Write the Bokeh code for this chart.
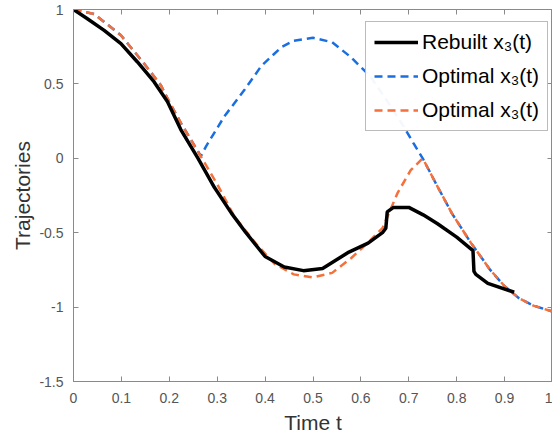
from bokeh.plotting import figure
from bokeh.models import LinearAxis, FixedTicker, Legend, LegendItem, Range1d
from bokeh.embed import file_html
from bokeh.resources import INLINE

# ---- data ----
t_rebuilt = [0, 0.029, 0.064, 0.099, 0.133, 0.168, 0.196, 0.224, 0.26, 0.294, 0.33, 0.36, 0.40, 0.44, 0.48,
             0.52, 0.55, 0.575, 0.615, 0.645, 0.652, 0.655, 0.668, 0.70, 0.73, 0.76, 0.80,
             0.834, 0.836, 0.84, 0.865, 0.92]
y_rebuilt = [1.0, 0.938, 0.86, 0.771, 0.649, 0.515, 0.382, 0.193, 0.0, -0.195, -0.37, -0.50, -0.66, -0.73, -0.755,
             -0.74, -0.68, -0.63, -0.57, -0.50, -0.47, -0.36, -0.33, -0.33, -0.38, -0.44, -0.53,
             -0.62, -0.76, -0.78, -0.84, -0.90]

t_opt2 = [0, 0.043, 0.099, 0.147, 0.182, 0.20, 0.224, 0.27, 0.301, 0.335, 0.38, 0.42, 0.46, 0.50, 0.54,
          0.58, 0.62, 0.645, 0.677, 0.704, 0.729, 0.76, 0.79, 0.83, 0.87, 0.90, 0.93, 0.96, 1.0]
y_opt2 = [1.0, 0.97, 0.827, 0.638, 0.493, 0.38, 0.238, -0.01, -0.18, -0.387, -0.57, -0.71, -0.78, -0.80, -0.77,
          -0.67, -0.55, -0.47, -0.23, -0.08, 0.0, -0.19, -0.37, -0.57, -0.75, -0.86, -0.94, -0.99, -1.03]

t_opt1 = [0, 0.043, 0.099, 0.147, 0.182, 0.20, 0.224, 0.266, 0.277, 0.315, 0.357, 0.392, 0.434, 0.46, 0.50, 0.54,
          0.579, 0.62, 0.66, 0.69, 0.71, 0.729, 0.76, 0.79, 0.83, 0.87, 0.90, 0.93, 0.96, 1.0]
y_opt1 = [1.0, 0.97, 0.827, 0.638, 0.493, 0.38, 0.238, 0.015, 0.082, 0.282, 0.46, 0.62, 0.747, 0.79, 0.81, 0.78,
          0.68, 0.55, 0.36, 0.21, 0.10, 0.0, -0.19, -0.37, -0.57, -0.75, -0.86, -0.94, -0.99, -1.03]

x_ticks = [0, 0.1, 0.2, 0.3, 0.4, 0.5, 0.6, 0.7, 0.8, 0.9, 1]
x_tick_labels = ["0", "0.1", "0.2", "0.3", "0.4", "0.5", "0.6", "0.7", "0.8", "0.9", "1"]
y_ticks = [-1.5, -1, -0.5, 0, 0.5, 1]
y_tick_labels = ["-1.5", "-1", "-0.5", "0", "0.5", "1"]

labels = ["Rebuilt x\u2083(t)", "Optimal x\u2083(t)", "Optimal x\u2083(t)"]

FONT = "Liberation Sans"
AX = "#8a8a8a"

p = figure(width=544, height=436, output_backend="svg", toolbar_location=None,
           x_range=Range1d(0, 1), y_range=Range1d(-1.5, 1),
           min_border_top=9, min_border_left=0, min_border_right=0, min_border_bottom=0)
p.margin = (0, 0, 0, 8)
p.xgrid.grid_line_color = None
p.ygrid.grid_line_color = None
p.outline_line_color = AX
p.background_fill_color = "white"

r_blue = p.line(t_opt1, y_opt1, line_color="#1a6fe0", line_width=2.5, line_dash="8 5")
r_orange = p.line(t_opt2, y_opt2, line_color="#f5703a", line_width=2.5, line_dash="8 5")
r_black = p.line(t_rebuilt, y_rebuilt, line_color="black", line_width=3.5)

def style(ax, ticks, labs, show, standoff=0):
    ax.ticker = FixedTicker(ticks=ticks)
    ax.minor_tick_line_color = None
    ax.major_tick_in = 5
    ax.major_tick_out = 0
    ax.axis_line_color = AX
    ax.major_tick_line_color = AX
    ax.major_label_text_font = FONT
    if show:
        ax.major_label_overrides = {tv: lb for tv, lb in zip(ticks, labs)}
        ax.major_label_text_color = "#555555"
        ax.major_label_text_font_size = "14px"
        ax.major_label_standoff = standoff
    else:
        ax.major_label_text_color = None
        ax.major_label_text_font_size = "0px"
        ax.major_label_standoff = 0

style(p.xaxis[0], x_ticks, x_tick_labels, True, 11)
style(p.yaxis[0], y_ticks, y_tick_labels, True, 10)
p.xaxis.axis_label = "Time t"
p.yaxis.axis_label = "Trajectories"
for ax in (p.xaxis[0], p.yaxis[0]):
    ax.axis_label_text_font = FONT
    ax.axis_label_text_font_size = "21px"
    ax.axis_label_text_font_style = "normal"
    ax.axis_label_text_color = "#333333"
p.xaxis[0].axis_label_standoff = 5
p.yaxis[0].axis_label_standoff = 2

top = LinearAxis()
style(top, x_ticks, x_tick_labels, False)
p.add_layout(top, "above")
right = LinearAxis()
style(right, y_ticks, y_tick_labels, False)
p.add_layout(right, "right")

legend = Legend(items=[LegendItem(label=labels[0], renderers=[r_black]),
                       LegendItem(label=labels[1], renderers=[r_blue]),
                       LegendItem(label=labels[2], renderers=[r_orange])],
                location=(292, 250))
legend.label_text_font = FONT
legend.label_text_font_size = "21px"
legend.label_text_color = "black"
legend.border_line_color = "#777777"
legend.border_line_width = 1.5
legend.glyph_width = 44
legend.glyph_height = 24
legend.label_height = 24
legend.label_standoff = 4
legend.spacing = 10
legend.padding = 8
legend.margin = 0
p.add_layout(legend, "center")

open("out.html", "w").write(file_html(p, INLINE))
